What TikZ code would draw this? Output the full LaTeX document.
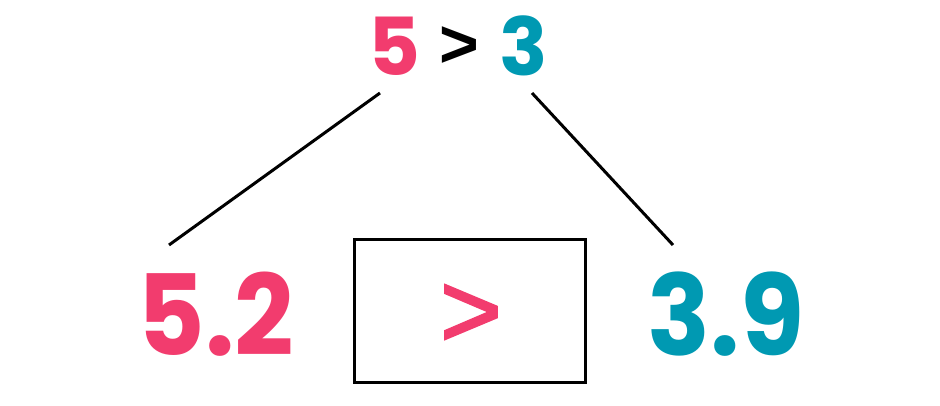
\documentclass[tikz,border=0pt]{standalone}
\usepackage{fontspec}
\setmainfont{Poppins}
\newfontfamily\numfont[FakeStretch=0.93]{Poppins}
\newfontfamily\gtfont{Liberation Sans}
\newfontfamily\gtboxfont[FakeBold=2.2]{Liberation Sans}
\definecolor{pinkc}{HTML}{F23C6E}
\definecolor{tealc}{HTML}{0099B2}
\begin{document}
\begin{tikzpicture}[x=1pt,y=-1pt,
  big/.style={font=\numfont\fontsize{112}{112}\selectfont\bfseries, inner sep=0pt, anchor=base},
  small/.style={font=\fontsize{80}{80}\selectfont\bfseries, inner sep=0pt, anchor=base},
  conn/.style={line width=3pt}]
\useasboundingbox (0,0) rectangle (940,406);
\node[small, text=pinkc] (t5) at (394,76) {5};
\node[font=\gtfont\fontsize{68}{68}\selectfont\bfseries, text=black, inner sep=0pt] (tgt) at (459,47) {>};
\node[small, text=tealc] (t3) at (524,76) {3};
\node[big, text=pinkc] (b52) at (216,355) {5.2};
\node[big, text=tealc] (b39) at (726,355) {3.9};
\node[draw, line width=3pt, minimum width=231pt, minimum height=143pt, inner sep=0pt] (box) at (470,311) {};
\node[font=\gtboxfont\fontsize{106}{106}\selectfont, text=pinkc, inner sep=0pt] (bgt) at (471,316) {>};
\coordinate (l1) at (380,93);
\coordinate (l2) at (169,245);
\coordinate (r1) at (532,93);
\coordinate (r2) at (673,245);
\draw[conn] (l1) -- (l2);
\draw[conn] (r1) -- (r2);
\end{tikzpicture}
\end{document}
